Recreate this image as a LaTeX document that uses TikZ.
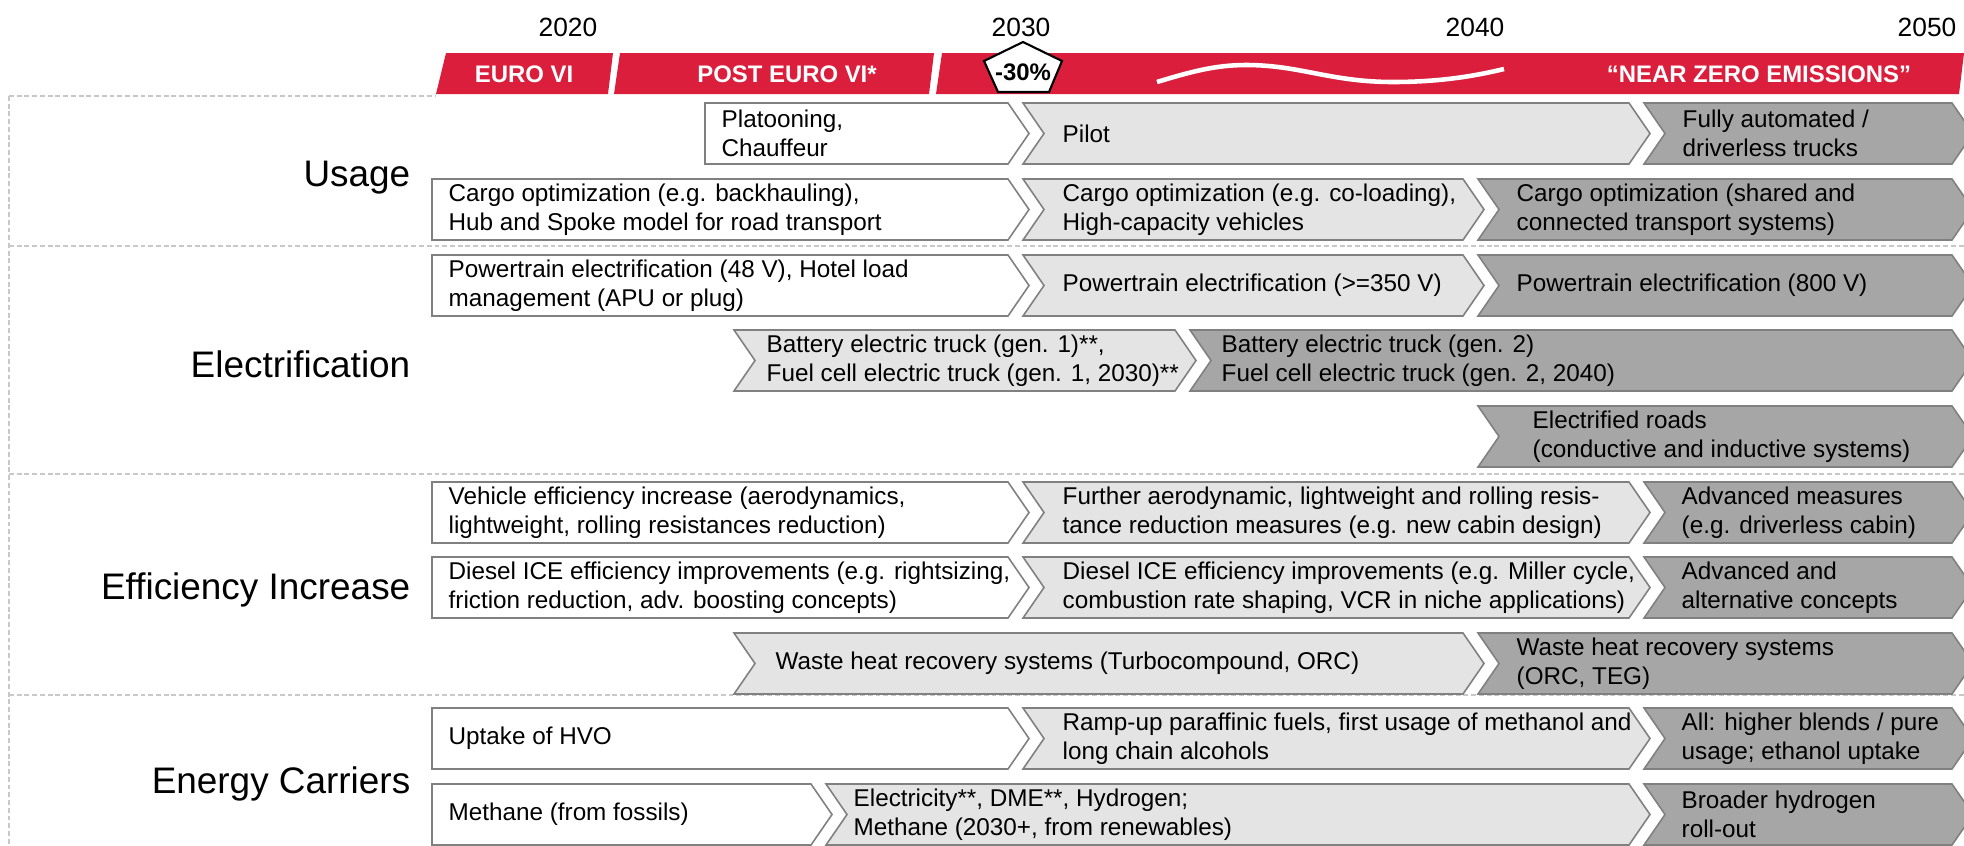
\documentclass[tikz,border=0pt]{standalone}
\usepackage{fontspec}
\setmainfont{Liberation Sans}

\definecolor{bannerred}{RGB}{218,30,60}
\definecolor{lightfill}{RGB}{228,228,228}
\definecolor{darkfill}{RGB}{166,166,166}
\definecolor{edgegray}{RGB}{128,128,128}
\definecolor{rulegray}{RGB}{200,200,200}

\tikzset{
  phase/.style={draw=edgegray, line width=0.45pt, line join=miter},
  nowphase/.style={phase, fill=white},
  nextphase/.style={phase, fill=lightfill},
  laterphase/.style={phase, fill=darkfill},
  boxtext/.style={anchor=west, align=left, inner sep=0pt, text=black,
    font=\fontsize{6.9}{8.2}\selectfont},
  yearlabel/.style={inner sep=0pt, font=\fontsize{7.5}{9}\selectfont},
  bannertext/.style={inner sep=0pt, text=white, font=\fontsize{6.8}{8}\selectfont\bfseries},
  category/.style={anchor=base east, inner sep=0pt, font=\fontsize{10.5}{12}\selectfont},
  rule/.style={draw=rulegray, line width=0.45pt, dash pattern=on 1.4pt off 0.8pt},
  pentagonmark/.style={draw=black, fill=white, line width=0.6pt, line join=miter},
}

% chevron bar: name, left x, body right x, top y, style, notched (0/1), text inset, text
\newcommand{\phasebox}[8]{%
  \pgfmathsetmacro{\pbBot}{#4+61}%
  \pgfmathsetmacro{\pbMid}{#4+30.5}%
  \pgfmathsetmacro{\pbTip}{#3+21}%
  \pgfmathsetmacro{\pbNotch}{#2+21*#6}%
  \path[#5] (#2,#4) -- (#3,#4) -- (\pbTip,\pbMid) -- (#3,\pbBot) -- (#2,\pbBot) -- (\pbNotch,\pbMid) -- cycle;
  \node[boxtext] (#1) at ({#2+#7},\pbMid) {#8};
}

\begin{document}
\begin{tikzpicture}[x=0.01cm, y=-0.01cm]
\useasboundingbox (0,0) rectangle (1964,845);
\clip (0,0) rectangle (1964,845);

% section frame
\draw[rule] (9,96) -- (436,96);
\draw[rule] (9,96) -- (9,845);
\draw[rule] (9,246) -- (1964,246);
\draw[rule] (9,474) -- (1964,474);
\draw[rule] (9,695) -- (1964,695);

% years
\node[yearlabel] (y2020) at (568,27) {2020};
\node[yearlabel] (y2030) at (1021,27) {2030};
\node[yearlabel] (y2040) at (1475,27) {2040};
\node[yearlabel] (y2050) at (1927,27) {2050};

% emission standards banner
\fill[bannerred] (446,53) -- (613,53) -- (608,94) -- (436,94) -- cycle;
\fill[bannerred] (620,53) -- (934,53) -- (929,94) -- (614,94) -- cycle;
\fill[bannerred] (942,53) -- (1964,53) -- (1959,94) -- (936,94) -- cycle;
\node[bannertext] (euro6) at (524,74) {EURO VI};
\node[bannertext] (posteuro6) at (787,74) {POST EURO VI*};
\node[bannertext] (nearzero) at (1759,74) {“NEAR ZERO EMISSIONS”};
\draw[white, line width=1.3pt] (1157,82) .. controls (1190,72) and (1215,65) .. (1246,65)
  .. controls (1300,65) and (1330,82) .. (1393,82) .. controls (1440,82) and (1475,76) .. (1504,69);

% CO2 target marker at 2030
\path[pentagonmark] (1023,42) -- (1062,61) -- (1049,92) -- (998,92) -- (984,61) -- cycle;
\node[inner sep=0pt, font=\fontsize{6.8}{8}\selectfont\bfseries] (cutlabel) at (1023,72) {-30\%};

% categories
\node[category] (usage) at (411,186) {Usage};
\node[category] (electr) at (411,377) {Electrification};
\node[category] (effic) at (411,599) {Efficiency Increase};
\node[category] (energy) at (411,793) {Energy Carriers};

% Usage
\phasebox{plat}{705}{1008}{103}{nowphase}{0}{16}{Platooning,\\Chauffeur}
\phasebox{pilot}{1023}{1629}{103}{nextphase}{1}{39}{Pilot}
\phasebox{auto}{1644}{1952}{103}{laterphase}{1}{38}{Fully automated /\\driverless trucks}
\phasebox{cargoA}{432}{1008}{179}{nowphase}{0}{16}{Cargo optimization (e.g. backhauling),\\Hub and Spoke model for road transport}
\phasebox{cargoB}{1023}{1463}{179}{nextphase}{1}{39}{Cargo optimization (e.g. co-loading),\\High-capacity vehicles}
\phasebox{cargoC}{1478}{1952}{179}{laterphase}{1}{38}{Cargo optimization (shared and\\connected transport systems)}

% Electrification
\phasebox{ptA}{432}{1008}{255}{nowphase}{0}{16}{Powertrain electrification (48 V), Hotel load\\management (APU or plug)}
\phasebox{ptB}{1023}{1463}{255}{nextphase}{1}{39}{Powertrain electrification (>=350 V)}
\phasebox{ptC}{1478}{1952}{255}{laterphase}{1}{38}{Powertrain electrification (800 V)}
\phasebox{betA}{734}{1175}{330}{nextphase}{1}{32}{Battery electric truck (gen. 1)**,\\Fuel cell electric truck (gen. 1, 2030)**}
\phasebox{betB}{1190}{1952}{330}{laterphase}{1}{31}{Battery electric truck (gen. 2)\\Fuel cell electric truck (gen. 2, 2040)}
\phasebox{eroad}{1478}{1952}{406}{laterphase}{1}{54}{Electrified roads\\(conductive and inductive systems)}

% Efficiency increase
\phasebox{vehA}{432}{1008}{482}{nowphase}{0}{16}{Vehicle efficiency increase (aerodynamics,\\lightweight, rolling resistances reduction)}
\phasebox{vehB}{1023}{1629}{482}{nextphase}{1}{39}{Further aerodynamic, lightweight and rolling resis-\\tance reduction measures (e.g. new cabin design)}
\phasebox{vehC}{1644}{1952}{482}{laterphase}{1}{37}{Advanced measures\\(e.g. driverless cabin)}
\phasebox{iceA}{432}{1008}{557}{nowphase}{0}{16}{Diesel ICE efficiency improvements (e.g. rightsizing,\\friction reduction, adv. boosting concepts)}
\phasebox{iceB}{1023}{1629}{557}{nextphase}{1}{39}{Diesel ICE efficiency improvements (e.g. Miller cycle,\\combustion rate shaping, VCR in niche applications)}
\phasebox{iceC}{1644}{1952}{557}{laterphase}{1}{37}{Advanced and\\alternative concepts}
\phasebox{whrA}{734}{1463}{633}{nextphase}{1}{41}{Waste heat recovery systems (Turbocompound, ORC)}
\phasebox{whrB}{1478}{1952}{633}{laterphase}{1}{38}{Waste heat recovery systems\\(ORC, TEG)}

% Energy carriers
\phasebox{fuelA}{432}{1008}{708}{nowphase}{0}{16}{Uptake of HVO}
\phasebox{fuelB}{1023}{1629}{708}{nextphase}{1}{39}{Ramp-up paraffinic fuels, first usage of methanol and\\long chain alcohols}
\phasebox{fuelC}{1644}{1952}{708}{laterphase}{1}{37}{All: higher blends / pure\\usage; ethanol uptake}
\phasebox{gasA}{432}{811}{784}{nowphase}{0}{16}{Methane (from fossils)}
\phasebox{gasB}{826}{1629}{784}{nextphase}{1}{27}{Electricity**, DME**, Hydrogen;\\Methane (2030+, from renewables)}
\phasebox{gasC}{1644}{1952}{784}{laterphase}{1}{37}{Broader hydrogen\\roll-out}
\end{tikzpicture}
\end{document}
